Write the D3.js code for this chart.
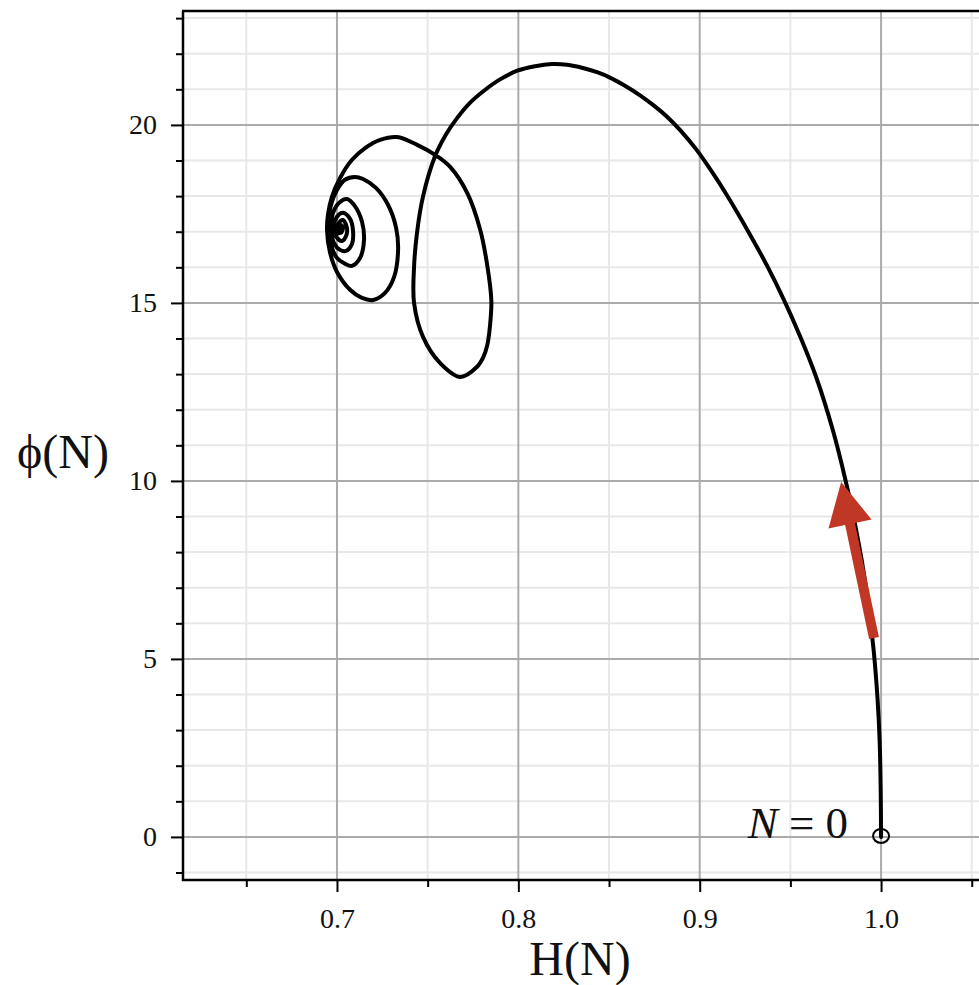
<!DOCTYPE html>
<html>
<head>
<meta charset="utf-8">
<script src="https://cdn.jsdelivr.net/npm/d3@7"></script>
<style>
  html, body { margin: 0; padding: 0; background: #fff; }
  svg { display: block; font-family: "Liberation Serif", "Times New Roman", serif; }
</style>
</head>
<body>
<svg id="chart" width="979" height="985"></svg>
<script>
// ---- data ----
const H = [1.0, 0.9998, 0.9992, 0.9981, 0.9959, 0.9927, 0.9893, 0.9852, 0.9805, 0.9734, 0.9642, 0.9558, 0.9465, 0.9372, 0.9273, 0.9146, 0.9068, 0.8983, 0.8891, 0.8820, 0.8753, 0.8671, 0.8588, 0.8505, 0.8434, 0.8356, 0.8268, 0.8185, 0.8092, 0.7998, 0.7899, 0.7805, 0.7733, 0.7662, 0.7601, 0.7540, 0.7474, 0.7441, 0.7425, 0.7425, 0.7475, 0.7569, 0.768, 0.7771, 0.7807, 0.7829, 0.7848, 0.7851, 0.783, 0.779, 0.7718, 0.7624, 0.7541, 0.7442, 0.7331, 0.7238, 0.7155, 0.7083, 0.7017, 0.6972, 0.695, 0.6945, 0.6961, 0.7, 0.7072, 0.7138, 0.7199, 0.7265, 0.7315, 0.7337, 0.7326, 0.7282, 0.7215, 0.7144, 0.7099, 0.7044, 0.7, 0.6967, 0.695, 0.6967, 0.7, 0.7044, 0.7083, 0.7127, 0.7149, 0.7138, 0.7099, 0.7055, 0.7011, 0.6978, 0.6967, 0.6983, 0.7017, 0.705, 0.7083, 0.7088, 0.7072, 0.7033, 0.7, 0.6983, 0.7, 0.7028, 0.705, 0.7055, 0.7033, 0.7011, 0.7006, 0.7022, 0.7033, 0.7022, 0.7012, 0.7017, 0.7025, 0.7019, 0.7003, 0.6996, 0.7008, 0.7024, 0.7016, 0.7005, 0.7014, 0.702];
const PHI = [0, 1.32, 2.72, 3.85, 5.25, 6.65, 7.78, 8.9, 10.0, 11.43, 12.92, 14.01, 15.08, 16.04, 16.96, 18.06, 18.68, 19.3, 19.86, 20.23, 20.52, 20.83, 21.1, 21.33, 21.48, 21.6, 21.69, 21.71, 21.65, 21.53, 21.28, 20.94, 20.62, 20.19, 19.73, 19.11, 17.98, 16.96, 16.01, 15.0, 14.04, 13.31, 12.92, 13.2, 13.48, 13.82, 14.61, 15.08, 16.01, 17.05, 18.09, 18.82, 19.16, 19.44, 19.66, 19.58, 19.35, 19.02, 18.51, 17.98, 17.47, 17.05, 16.43, 15.87, 15.37, 15.14, 15.08, 15.28, 15.73, 16.49, 17.11, 17.75, 18.23, 18.48, 18.54, 18.46, 18.17, 17.75, 17.19, 16.63, 16.26, 16.1, 16.04, 16.26, 16.77, 17.28, 17.72, 17.92, 17.81, 17.53, 17.11, 16.69, 16.49, 16.46, 16.66, 17.05, 17.36, 17.53, 17.42, 17.13, 16.83, 16.74, 16.88, 17.11, 17.33, 17.25, 17.05, 16.97, 17.11, 17.19, 17.14, 17.06, 17.1, 17.14, 17.2, 17.05, 16.95, 17.05, 17.18, 17.08, 17.02, 17.1];
const xMajorTicks = [0.7, 0.8, 0.9, 1.0];
const xMinorTicks = [0.65, 0.75, 0.85, 0.95, 1.05];
const yMajorTicks = [0, 5, 10, 15, 20];
const yMinorTicks = [-1, 1, 2, 3, 4, 6, 7, 8, 9, 11, 12, 13, 14, 16, 17, 18, 19, 21, 22, 23];
const xDomain = [0.6151, 1.054];
const yDomain = [-1.21, 23.2];
const arrowFrom = [0.9961, 5.59];
const arrowTo = [0.978, 9.97];
const startPoint = [1.0, 0];
const startLabel = "N";
const xTitle = "H(N)";
const yTitle = "ϕ(N)";

// ---- layout ----
const svg = d3.select("#chart");
const pLeft = 183, pRight = 979, pTop = 11, pBottom = 880;
const x = d3.scaleLinear().domain(xDomain).range([pLeft, pRight]);
const y = d3.scaleLinear().domain(yDomain).range([pBottom, pTop]);
const fontFam = '"Liberation Serif", "Times New Roman", serif';

// grid
const grid = svg.append("g");
grid.selectAll("line.xminor").data(xMinorTicks).join("line")
  .attr("x1", d => x(d)).attr("x2", d => x(d)).attr("y1", pTop).attr("y2", pBottom)
  .attr("stroke", "#e8e8e8").attr("stroke-width", 2);
grid.selectAll("line.yminor").data(yMinorTicks).join("line")
  .attr("x1", pLeft).attr("x2", pRight).attr("y1", d => y(d)).attr("y2", d => y(d))
  .attr("stroke", "#e8e8e8").attr("stroke-width", 2);
grid.selectAll("line.xmajor").data(xMajorTicks).join("line")
  .attr("x1", d => x(d)).attr("x2", d => x(d)).attr("y1", pTop).attr("y2", pBottom)
  .attr("stroke", "#ababab").attr("stroke-width", 2);
grid.selectAll("line.ymajor").data(yMajorTicks).join("line")
  .attr("x1", pLeft).attr("x2", pRight).attr("y1", d => y(d)).attr("y2", d => y(d))
  .attr("stroke", "#ababab").attr("stroke-width", 2);

// axes
function styleAxis(g) {
  g.select(".domain").remove();
  g.selectAll(".tick line").attr("stroke", "#000").attr("stroke-width", 2);
  g.selectAll(".tick text").attr("font-family", fontFam).attr("font-size", 28).attr("fill", "#111");
}
svg.append("g").attr("transform", `translate(${pLeft},0)`)
  .call(d3.axisLeft(y).tickValues(yMinorTicks).tickSize(7).tickFormat(""))
  .call(styleAxis);
svg.append("g").attr("transform", `translate(${pLeft},0)`)
  .call(d3.axisLeft(y).tickValues(yMajorTicks).tickSize(12).tickPadding(14).tickFormat(d3.format("d")))
  .call(styleAxis);
svg.append("g").attr("transform", `translate(0,${pBottom})`)
  .call(d3.axisBottom(x).tickValues(xMinorTicks).tickSize(7).tickFormat(""))
  .call(styleAxis);
svg.append("g").attr("transform", `translate(0,${pBottom})`)
  .call(d3.axisBottom(x).tickValues(xMajorTicks).tickSize(12).tickPadding(16).tickFormat(d3.format(".1f")))
  .call(styleAxis);

// frame lines
svg.append("line").attr("x1", pLeft).attr("x2", pLeft).attr("y1", pTop).attr("y2", pBottom + 1)
  .attr("stroke", "#000").attr("stroke-width", 2.5);
svg.append("line").attr("x1", pLeft - 1).attr("x2", pRight).attr("y1", pBottom).attr("y2", pBottom)
  .attr("stroke", "#000").attr("stroke-width", 2.5);
svg.append("line").attr("x1", pLeft - 1).attr("x2", pRight).attr("y1", pTop).attr("y2", pTop)
  .attr("stroke", "#000").attr("stroke-width", 2.5);

// trajectory
const pts = H.map((h, i) => [h, PHI[i]]);
const line = d3.line().x(d => x(d[0])).y(d => y(d[1])).curve(d3.curveCatmullRom.alpha(0.5));
svg.append("path").attr("d", line(pts)).attr("fill", "none")
  .attr("stroke", "#000").attr("stroke-width", 4).attr("stroke-linejoin", "round").attr("stroke-linecap", "round");

// start marker
svg.append("ellipse").attr("cx", x(startPoint[0])).attr("cy", y(startPoint[1]) - 1)
  .attr("rx", 8).attr("ry", 7).attr("fill", "none").attr("stroke", "#000").attr("stroke-width", 2);

// arrow
(function () {
  const x0 = x(arrowFrom[0]), y0 = y(arrowFrom[1]);
  const x1 = x(arrowTo[0]), y1 = y(arrowTo[1]);
  const dx = x1 - x0, dy = y1 - y0, L = Math.hypot(dx, dy);
  const ux = dx / L, uy = dy / L, nx = -uy, ny = ux;
  const headLen = 43, headHalf = 22, shaftHalf = 5;
  const bx = x1 - ux * headLen, by = y1 - uy * headLen;
  const p = [
    [x0 + nx * shaftHalf, y0 + ny * shaftHalf],
    [bx + nx * shaftHalf, by + ny * shaftHalf],
    [bx + nx * headHalf, by + ny * headHalf],
    [x1, y1],
    [bx - nx * headHalf, by - ny * headHalf],
    [bx - nx * shaftHalf, by - ny * shaftHalf],
    [x0 - nx * shaftHalf, y0 - ny * shaftHalf]
  ];
  svg.append("path").attr("d", "M" + p.map(q => q.join(",")).join("L") + "Z").attr("fill", "#c13726");
})();

// N = 0 label
const lab = svg.append("text").attr("x", x(startPoint[0]) - 33).attr("y", y(startPoint[1]) + 1)
  .attr("text-anchor", "end").attr("font-family", fontFam).attr("font-size", 45).attr("fill", "#111");
lab.append("tspan").attr("font-style", "italic").text(startLabel);
lab.append("tspan").text(" = 0");

// axis titles
svg.append("text").attr("x", 580).attr("y", 975)
  .attr("text-anchor", "middle").attr("font-family", fontFam).attr("font-size", 48).attr("fill", "#111").text(xTitle);
svg.append("text").attr("x", 63).attr("y", 468)
  .attr("text-anchor", "middle").attr("font-family", fontFam).attr("font-size", 48).attr("fill", "#111").text(yTitle);
</script>
</body>
</html>
